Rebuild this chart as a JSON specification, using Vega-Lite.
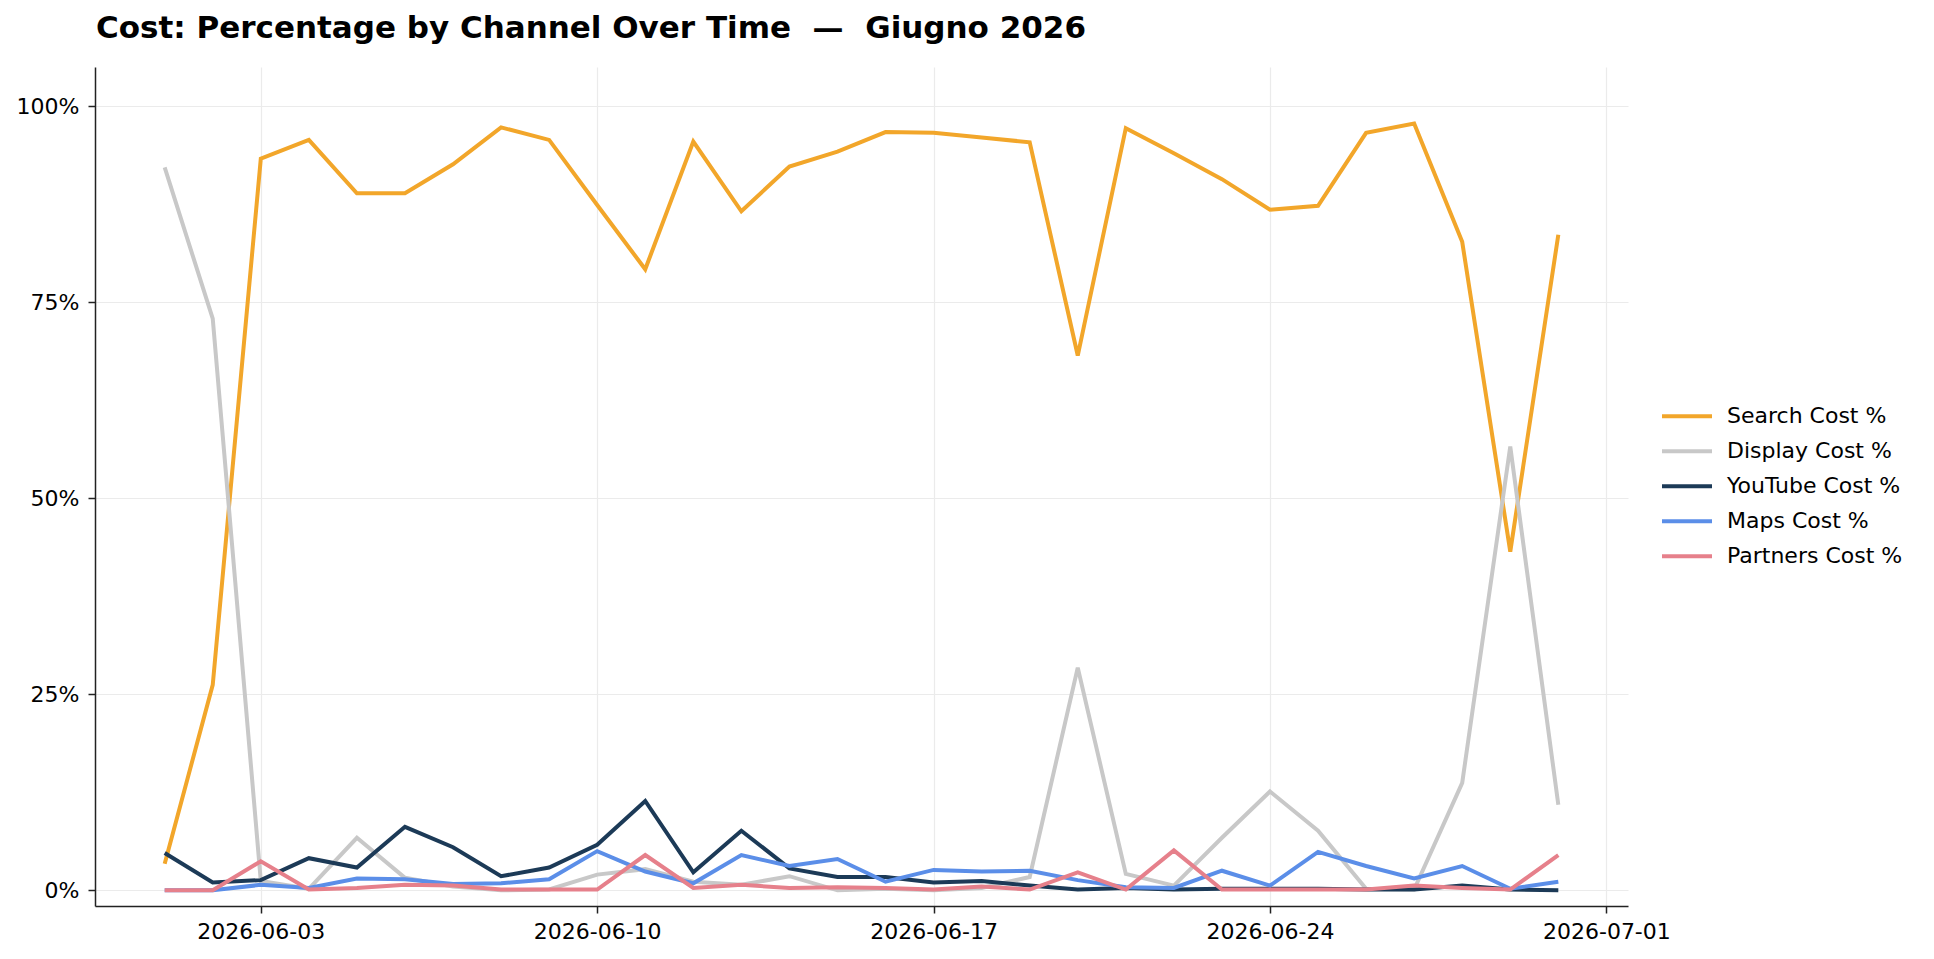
{
  "$schema": "https://vega.github.io/schema/vega-lite/v6.json",
  "width": 1533,
  "height": 839,
  "autosize": {"type": "none"},
  "padding": {"left": 95, "top": 67, "right": 306, "bottom": 53},
  "background": "white",
  "title": {
    "text": "Cost: Percentage by Channel Over Time \u00a0—\u00a0 Giugno 2026",
    "anchor": "start",
    "frame": "group",
    "font": "DejaVu Sans",
    "fontSize": 31,
    "fontWeight": "bold",
    "color": "black",
    "offset": 22,
    "dx": 1
  },
  "config": {
    "view": {"stroke": null},
    "font": "DejaVu Sans",
    "axis": {
      "labelFont": "DejaVu Sans",
      "labelFontSize": 22,
      "labelColor": "black",
      "tickSize": 7,
      "tickWidth": 1.5,
      "tickColor": "#222222",
      "domainColor": "#222222",
      "domainWidth": 1.5,
      "gridColor": "#ebebeb",
      "gridWidth": 1.2
    }
  },
  "data": {
    "values": [
      {"d": "2026-06-01", "c": "Search Cost %", "v": 3.4},
      {"d": "2026-06-02", "c": "Search Cost %", "v": 26.2},
      {"d": "2026-06-03", "c": "Search Cost %", "v": 93.3},
      {"d": "2026-06-04", "c": "Search Cost %", "v": 95.7},
      {"d": "2026-06-05", "c": "Search Cost %", "v": 88.9},
      {"d": "2026-06-06", "c": "Search Cost %", "v": 88.9},
      {"d": "2026-06-07", "c": "Search Cost %", "v": 92.6},
      {"d": "2026-06-08", "c": "Search Cost %", "v": 97.3},
      {"d": "2026-06-09", "c": "Search Cost %", "v": 95.7},
      {"d": "2026-06-10", "c": "Search Cost %", "v": 87.4},
      {"d": "2026-06-11", "c": "Search Cost %", "v": 79.2},
      {"d": "2026-06-12", "c": "Search Cost %", "v": 95.5},
      {"d": "2026-06-13", "c": "Search Cost %", "v": 86.6},
      {"d": "2026-06-14", "c": "Search Cost %", "v": 92.3},
      {"d": "2026-06-15", "c": "Search Cost %", "v": 94.2},
      {"d": "2026-06-16", "c": "Search Cost %", "v": 96.7},
      {"d": "2026-06-17", "c": "Search Cost %", "v": 96.6},
      {"d": "2026-06-18", "c": "Search Cost %", "v": 96.0},
      {"d": "2026-06-19", "c": "Search Cost %", "v": 95.4},
      {"d": "2026-06-20", "c": "Search Cost %", "v": 68.2},
      {"d": "2026-06-21", "c": "Search Cost %", "v": 97.2},
      {"d": "2026-06-22", "c": "Search Cost %", "v": 94.0},
      {"d": "2026-06-23", "c": "Search Cost %", "v": 90.7},
      {"d": "2026-06-24", "c": "Search Cost %", "v": 86.8},
      {"d": "2026-06-25", "c": "Search Cost %", "v": 87.3},
      {"d": "2026-06-26", "c": "Search Cost %", "v": 96.6},
      {"d": "2026-06-27", "c": "Search Cost %", "v": 97.8},
      {"d": "2026-06-28", "c": "Search Cost %", "v": 82.7},
      {"d": "2026-06-29", "c": "Search Cost %", "v": 43.2},
      {"d": "2026-06-30", "c": "Search Cost %", "v": 83.6},

      {"d": "2026-06-01", "c": "Display Cost %", "v": 92.2},
      {"d": "2026-06-02", "c": "Display Cost %", "v": 72.9},
      {"d": "2026-06-03", "c": "Display Cost %", "v": 1.2},
      {"d": "2026-06-04", "c": "Display Cost %", "v": 0.2},
      {"d": "2026-06-05", "c": "Display Cost %", "v": 6.7},
      {"d": "2026-06-06", "c": "Display Cost %", "v": 1.6},
      {"d": "2026-06-07", "c": "Display Cost %", "v": 0.5},
      {"d": "2026-06-08", "c": "Display Cost %", "v": 0.0},
      {"d": "2026-06-09", "c": "Display Cost %", "v": 0.1},
      {"d": "2026-06-10", "c": "Display Cost %", "v": 2.0},
      {"d": "2026-06-11", "c": "Display Cost %", "v": 2.7},
      {"d": "2026-06-12", "c": "Display Cost %", "v": 1.1},
      {"d": "2026-06-13", "c": "Display Cost %", "v": 0.7},
      {"d": "2026-06-14", "c": "Display Cost %", "v": 1.8},
      {"d": "2026-06-15", "c": "Display Cost %", "v": 0.0},
      {"d": "2026-06-16", "c": "Display Cost %", "v": 0.2},
      {"d": "2026-06-17", "c": "Display Cost %", "v": 0.0},
      {"d": "2026-06-18", "c": "Display Cost %", "v": 0.3},
      {"d": "2026-06-19", "c": "Display Cost %", "v": 1.7},
      {"d": "2026-06-20", "c": "Display Cost %", "v": 28.4},
      {"d": "2026-06-21", "c": "Display Cost %", "v": 2.1},
      {"d": "2026-06-22", "c": "Display Cost %", "v": 0.6},
      {"d": "2026-06-23", "c": "Display Cost %", "v": 6.7},
      {"d": "2026-06-24", "c": "Display Cost %", "v": 12.6},
      {"d": "2026-06-25", "c": "Display Cost %", "v": 7.6},
      {"d": "2026-06-26", "c": "Display Cost %", "v": 0.2},
      {"d": "2026-06-27", "c": "Display Cost %", "v": 0.1},
      {"d": "2026-06-28", "c": "Display Cost %", "v": 13.7},
      {"d": "2026-06-29", "c": "Display Cost %", "v": 56.6},
      {"d": "2026-06-30", "c": "Display Cost %", "v": 10.9},

      {"d": "2026-06-01", "c": "YouTube Cost %", "v": 4.75},
      {"d": "2026-06-02", "c": "YouTube Cost %", "v": 1.0},
      {"d": "2026-06-03", "c": "YouTube Cost %", "v": 1.3},
      {"d": "2026-06-04", "c": "YouTube Cost %", "v": 4.1},
      {"d": "2026-06-05", "c": "YouTube Cost %", "v": 2.9},
      {"d": "2026-06-06", "c": "YouTube Cost %", "v": 8.1},
      {"d": "2026-06-07", "c": "YouTube Cost %", "v": 5.5},
      {"d": "2026-06-08", "c": "YouTube Cost %", "v": 1.8},
      {"d": "2026-06-09", "c": "YouTube Cost %", "v": 2.9},
      {"d": "2026-06-10", "c": "YouTube Cost %", "v": 5.8},
      {"d": "2026-06-11", "c": "YouTube Cost %", "v": 11.4},
      {"d": "2026-06-12", "c": "YouTube Cost %", "v": 2.3},
      {"d": "2026-06-13", "c": "YouTube Cost %", "v": 7.6},
      {"d": "2026-06-14", "c": "YouTube Cost %", "v": 2.8},
      {"d": "2026-06-15", "c": "YouTube Cost %", "v": 1.7},
      {"d": "2026-06-16", "c": "YouTube Cost %", "v": 1.7},
      {"d": "2026-06-17", "c": "YouTube Cost %", "v": 1.0},
      {"d": "2026-06-18", "c": "YouTube Cost %", "v": 1.2},
      {"d": "2026-06-19", "c": "YouTube Cost %", "v": 0.6},
      {"d": "2026-06-20", "c": "YouTube Cost %", "v": 0.1},
      {"d": "2026-06-21", "c": "YouTube Cost %", "v": 0.3},
      {"d": "2026-06-22", "c": "YouTube Cost %", "v": 0.1},
      {"d": "2026-06-23", "c": "YouTube Cost %", "v": 0.2},
      {"d": "2026-06-24", "c": "YouTube Cost %", "v": 0.2},
      {"d": "2026-06-25", "c": "YouTube Cost %", "v": 0.2},
      {"d": "2026-06-26", "c": "YouTube Cost %", "v": 0.1},
      {"d": "2026-06-27", "c": "YouTube Cost %", "v": 0.1},
      {"d": "2026-06-28", "c": "YouTube Cost %", "v": 0.6},
      {"d": "2026-06-29", "c": "YouTube Cost %", "v": 0.1},
      {"d": "2026-06-30", "c": "YouTube Cost %", "v": 0.0},

      {"d": "2026-06-01", "c": "Maps Cost %", "v": 0.0},
      {"d": "2026-06-02", "c": "Maps Cost %", "v": 0.0},
      {"d": "2026-06-03", "c": "Maps Cost %", "v": 0.7},
      {"d": "2026-06-04", "c": "Maps Cost %", "v": 0.3},
      {"d": "2026-06-05", "c": "Maps Cost %", "v": 1.5},
      {"d": "2026-06-06", "c": "Maps Cost %", "v": 1.4},
      {"d": "2026-06-07", "c": "Maps Cost %", "v": 0.8},
      {"d": "2026-06-08", "c": "Maps Cost %", "v": 0.9},
      {"d": "2026-06-09", "c": "Maps Cost %", "v": 1.4},
      {"d": "2026-06-10", "c": "Maps Cost %", "v": 5.0},
      {"d": "2026-06-11", "c": "Maps Cost %", "v": 2.4},
      {"d": "2026-06-12", "c": "Maps Cost %", "v": 0.9},
      {"d": "2026-06-13", "c": "Maps Cost %", "v": 4.5},
      {"d": "2026-06-14", "c": "Maps Cost %", "v": 3.1},
      {"d": "2026-06-15", "c": "Maps Cost %", "v": 4.0},
      {"d": "2026-06-16", "c": "Maps Cost %", "v": 1.1},
      {"d": "2026-06-17", "c": "Maps Cost %", "v": 2.6},
      {"d": "2026-06-18", "c": "Maps Cost %", "v": 2.4},
      {"d": "2026-06-19", "c": "Maps Cost %", "v": 2.5},
      {"d": "2026-06-20", "c": "Maps Cost %", "v": 1.3},
      {"d": "2026-06-21", "c": "Maps Cost %", "v": 0.4},
      {"d": "2026-06-22", "c": "Maps Cost %", "v": 0.3},
      {"d": "2026-06-23", "c": "Maps Cost %", "v": 2.5},
      {"d": "2026-06-24", "c": "Maps Cost %", "v": 0.6},
      {"d": "2026-06-25", "c": "Maps Cost %", "v": 4.9},
      {"d": "2026-06-26", "c": "Maps Cost %", "v": 3.1},
      {"d": "2026-06-27", "c": "Maps Cost %", "v": 1.5},
      {"d": "2026-06-28", "c": "Maps Cost %", "v": 3.1},
      {"d": "2026-06-29", "c": "Maps Cost %", "v": 0.2},
      {"d": "2026-06-30", "c": "Maps Cost %", "v": 1.1},

      {"d": "2026-06-01", "c": "Partners Cost %", "v": 0.0},
      {"d": "2026-06-02", "c": "Partners Cost %", "v": 0.0},
      {"d": "2026-06-03", "c": "Partners Cost %", "v": 3.7},
      {"d": "2026-06-04", "c": "Partners Cost %", "v": 0.1},
      {"d": "2026-06-05", "c": "Partners Cost %", "v": 0.3},
      {"d": "2026-06-06", "c": "Partners Cost %", "v": 0.7},
      {"d": "2026-06-07", "c": "Partners Cost %", "v": 0.6},
      {"d": "2026-06-08", "c": "Partners Cost %", "v": 0.1},
      {"d": "2026-06-09", "c": "Partners Cost %", "v": 0.1},
      {"d": "2026-06-10", "c": "Partners Cost %", "v": 0.1},
      {"d": "2026-06-11", "c": "Partners Cost %", "v": 4.5},
      {"d": "2026-06-12", "c": "Partners Cost %", "v": 0.3},
      {"d": "2026-06-13", "c": "Partners Cost %", "v": 0.7},
      {"d": "2026-06-14", "c": "Partners Cost %", "v": 0.3},
      {"d": "2026-06-15", "c": "Partners Cost %", "v": 0.4},
      {"d": "2026-06-16", "c": "Partners Cost %", "v": 0.3},
      {"d": "2026-06-17", "c": "Partners Cost %", "v": 0.1},
      {"d": "2026-06-18", "c": "Partners Cost %", "v": 0.5},
      {"d": "2026-06-19", "c": "Partners Cost %", "v": 0.1},
      {"d": "2026-06-20", "c": "Partners Cost %", "v": 2.3},
      {"d": "2026-06-21", "c": "Partners Cost %", "v": 0.1},
      {"d": "2026-06-22", "c": "Partners Cost %", "v": 5.1},
      {"d": "2026-06-23", "c": "Partners Cost %", "v": 0.1},
      {"d": "2026-06-24", "c": "Partners Cost %", "v": 0.1},
      {"d": "2026-06-25", "c": "Partners Cost %", "v": 0.1},
      {"d": "2026-06-26", "c": "Partners Cost %", "v": 0.1},
      {"d": "2026-06-27", "c": "Partners Cost %", "v": 0.6},
      {"d": "2026-06-28", "c": "Partners Cost %", "v": 0.3},
      {"d": "2026-06-29", "c": "Partners Cost %", "v": 0.1},
      {"d": "2026-06-30", "c": "Partners Cost %", "v": 4.5}
    ]
  },
  "encoding": {
    "x": {
      "field": "d",
      "type": "temporal",
      "title": null,
      "scale": {
        "type": "utc",
        "domain": [
          {"year": 2026, "month": "may", "date": 30, "hours": 13, "minutes": 12, "utc": true},
          {"year": 2026, "month": "jul", "date": 1, "hours": 10, "minutes": 48, "utc": true}
        ]
      },
      "axis": {
        "values": [
          {"year": 2026, "month": "jun", "date": 3, "utc": true},
          {"year": 2026, "month": "jun", "date": 10, "utc": true},
          {"year": 2026, "month": "jun", "date": 17, "utc": true},
          {"year": 2026, "month": "jun", "date": 24, "utc": true},
          {"year": 2026, "month": "jul", "date": 1, "utc": true}
        ],
        "labelExpr": "utcFormat(datum.value, '%Y-%m-%d')",
        "labelPadding": 8,
        "grid": true
      }
    },
    "y": {
      "field": "v",
      "type": "quantitative",
      "title": null,
      "scale": {"domain": [-2, 105], "nice": false, "zero": false},
      "axis": {
        "values": [0, 25, 50, 75, 100],
        "labelExpr": "datum.value + '%'",
        "labelPadding": 9,
        "grid": true
      }
    },
    "color": {
      "field": "c",
      "type": "nominal",
      "scale": {
        "domain": ["Search Cost %", "Display Cost %", "YouTube Cost %", "Maps Cost %", "Partners Cost %"],
        "range": ["#f2a62a", "#c8c8c8", "#1c3a57", "#5b8ee8", "#e6808b"]
      },
      "legend": {
        "title": null,
        "orient": "none",
        "legendX": 1565,
        "legendY": 332,
        "symbolType": "stroke",
        "symbolSize": 2500,
        "symbolStrokeWidth": 4,
        "labelFont": "DejaVu Sans",
        "labelFontSize": 22,
        "labelColor": "black",
        "labelOffset": 13,
        "rowPadding": 0,
        "clipHeight": 34.3,
        "padding": 0,
        "labelLimit": 400
      }
    }
  },
  "layer": [
    {"transform": [{"filter": "datum.c === 'Search Cost %'"}], "mark": {"type": "line", "strokeWidth": 4}},
    {"transform": [{"filter": "datum.c === 'Display Cost %'"}], "mark": {"type": "line", "strokeWidth": 4}},
    {"transform": [{"filter": "datum.c === 'YouTube Cost %'"}], "mark": {"type": "line", "strokeWidth": 4}},
    {"transform": [{"filter": "datum.c === 'Maps Cost %'"}], "mark": {"type": "line", "strokeWidth": 4}},
    {"transform": [{"filter": "datum.c === 'Partners Cost %'"}], "mark": {"type": "line", "strokeWidth": 4}}
  ]
}
